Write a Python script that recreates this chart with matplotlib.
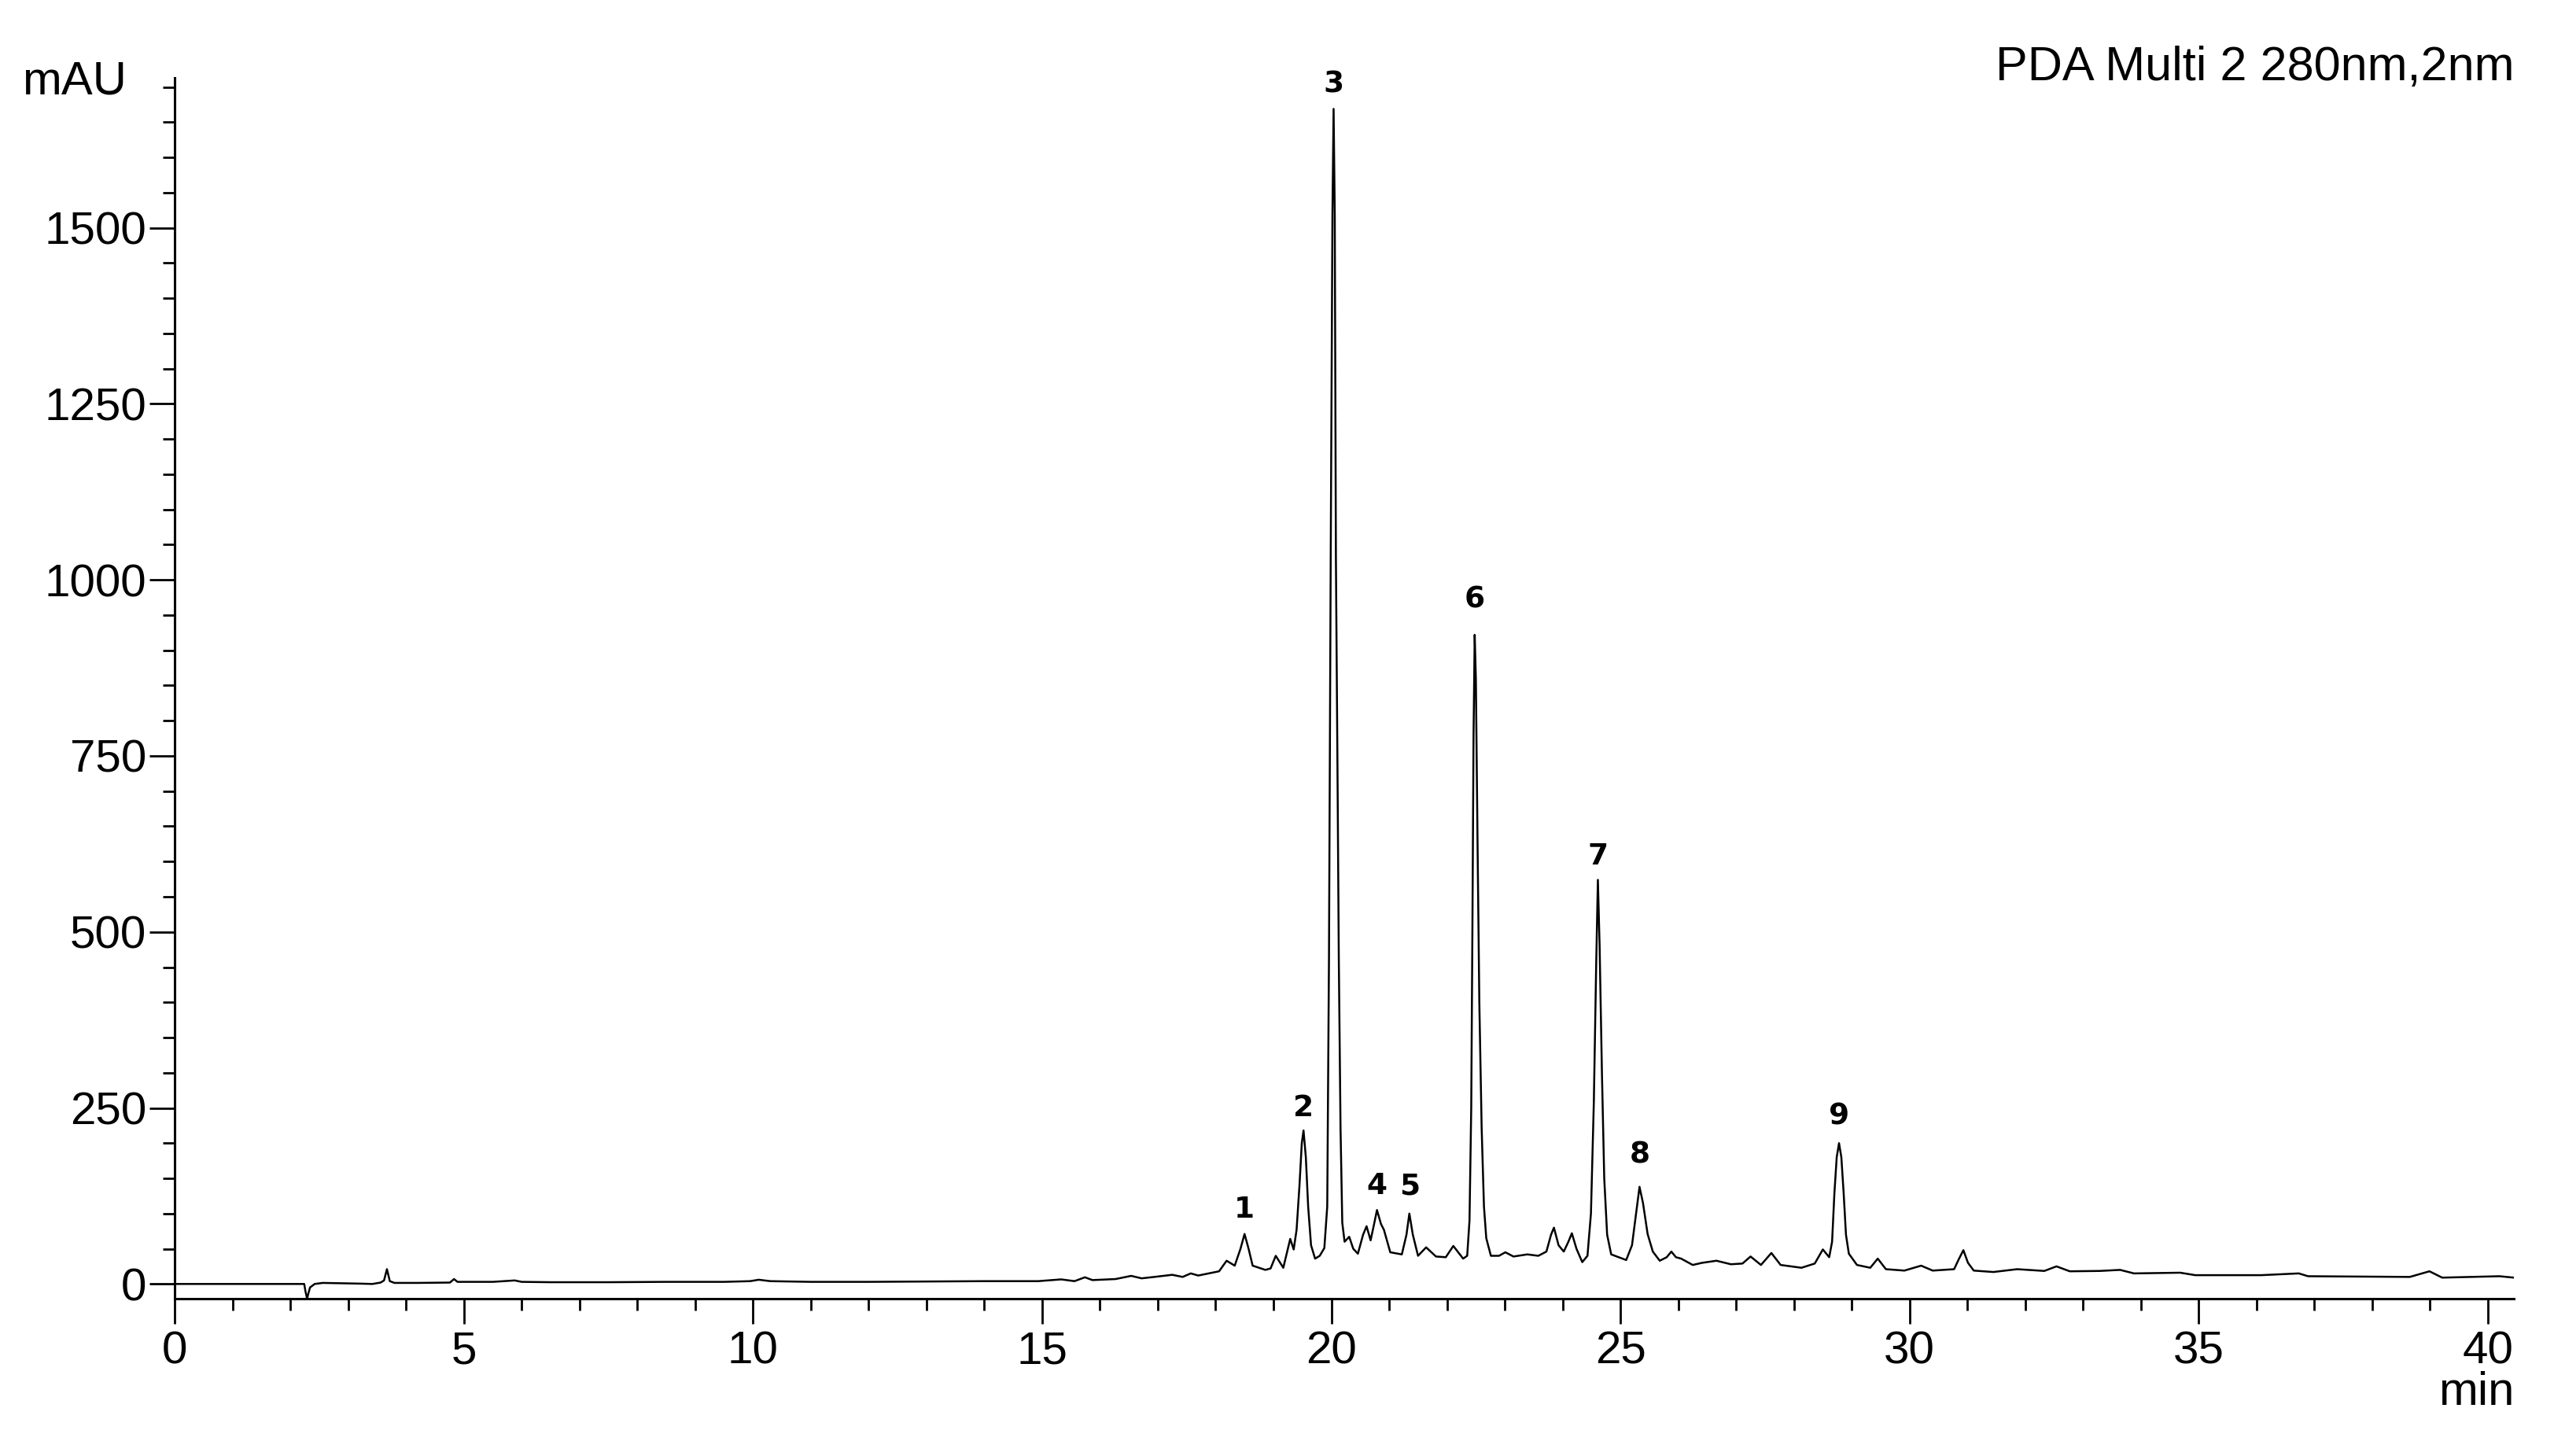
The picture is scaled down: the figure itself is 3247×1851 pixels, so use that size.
import numpy as np
import matplotlib
matplotlib.use('Agg')
import matplotlib.pyplot as plt
from matplotlib.ticker import MultipleLocator

# chromatogram trace (time in min, absorbance in mAU)
time_min = [0.0, 2.24, 2.26, 2.29, 2.31, 2.34, 2.42, 2.56, 2.9, 3.2, 3.42, 3.56, 3.62, 3.67, 3.72,
            3.8, 4.2, 4.76, 4.83, 4.89, 5.5, 5.88, 6.0, 6.5, 7.5, 8.5, 9.5, 9.95, 10.1, 10.3,
            11.0, 12.0, 13.0, 14.0, 14.93, 15.33, 15.56, 15.74, 15.87, 16.27, 16.54, 16.72, 16.94,
            17.25, 17.43, 17.57, 17.70, 18.06, 18.19, 18.33, 18.43, 18.50, 18.57, 18.64, 18.86,
            18.95, 19.04, 19.17, 19.29, 19.35, 19.40, 19.45, 19.49, 19.52, 19.56, 19.60, 19.65,
            19.72, 19.80, 19.88, 19.93, 19.96, 19.99, 20.02, 20.04, 20.06, 20.08, 20.11, 20.13,
            20.16, 20.19, 20.23, 20.31, 20.38, 20.46, 20.55, 20.61, 20.68, 20.74, 20.79, 20.86,
            20.91, 21.02, 21.22, 21.30, 21.35, 21.41, 21.50, 21.64, 21.81, 21.98, 22.11, 22.28,
            22.35, 22.39, 22.42, 22.44, 22.46, 22.48, 22.50, 22.53, 22.56, 22.60, 22.64, 22.68,
            22.76, 22.90, 23.01, 23.15, 23.39, 23.58, 23.72, 23.80, 23.85, 23.93, 24.02, 24.10,
            24.16, 24.24, 24.34, 24.43, 24.49, 24.54, 24.58, 24.61, 24.64, 24.68, 24.72, 24.77,
            24.84, 25.10, 25.20, 25.27, 25.33, 25.39, 25.47, 25.56, 25.68, 25.80, 25.88, 25.96,
            26.05, 26.25, 26.41, 26.66, 26.91, 27.11, 27.25, 27.43, 27.61, 27.77, 28.13, 28.36,
            28.50, 28.61, 28.66, 28.70, 28.74, 28.78, 28.82, 28.86, 28.90, 28.95, 29.09, 29.32,
            29.45, 29.59, 29.91, 30.20, 30.40, 30.77, 30.85, 30.93, 31.01, 31.11, 31.45, 31.86,
            32.33, 32.54, 32.77, 33.29, 33.64, 33.88, 34.68, 34.94, 36.08, 36.73, 36.89, 38.65,
            38.99, 39.21, 40.20, 40.45]
mau = [0.0, 0.0, -10, -21, -14, -5, 0, 1.5, 1.0, 0.5, 0.0, 2, 5, 21, 4,
       1.5, 1.5, 2, 7, 3, 3, 5, 3, 2.5, 2.5, 3, 3, 4, 6, 4,
       3, 3, 3.5, 4, 4, 6.5, 4, 9.5, 5.5, 7, 11.5, 8, 10,
       13, 10, 15, 12, 18, 33, 26, 50, 71, 50, 26, 20,
       22, 40, 23, 64, 49, 77, 140, 200, 218, 180, 110, 55,
       36, 40, 51, 110, 462, 1030, 1520, 1669, 1520, 1030, 700, 462,
       220, 87, 60, 67, 50, 43, 70, 82, 62, 85, 105, 85,
       77, 45, 42, 70, 100, 70, 40, 52, 39, 38, 54, 36,
       40, 90, 250, 500, 780, 922, 860, 620, 400, 222, 110, 65,
       40, 40, 45, 39, 42, 40, 46, 70, 80, 55, 46, 60,
       72, 50, 31, 40, 100, 258, 450, 574, 480, 300, 150, 70,
       42, 34, 55, 100, 138, 115, 71, 46, 33, 38, 46, 38,
       36, 27, 30, 33, 28, 29, 39, 27, 44, 27, 23, 29,
       49, 38, 60, 129, 180, 200, 180, 129, 70, 43, 27, 23,
       36, 21, 19, 26, 19, 21, 35, 48, 30, 19, 17, 21,
       18.5, 25, 18, 18.5, 20, 15, 16, 12.5, 12.5, 15, 11, 10,
       18, 9, 11, 9]

peak_ids = ['1', '2', '3', '4', '5', '6', '7', '8', '9']
peak_rt = [18.50, 19.52, 20.04, 20.79, 21.35, 22.48, 24.61, 25.33, 28.78]
# how far each number sits above its apex, in points
label_gap = [22, 20, 22, 22, 25, 32, 21, 29, 24]

fig = plt.figure(figsize=(32.47, 18.51), dpi=100)
ax = fig.add_axes([0.0684, 0.1080, 0.9159, 0.8385])

ax.plot(time_min, mau, color='black', linewidth=1.8)

for pid, rt, gap in zip(peak_ids, peak_rt, label_gap):
    top = np.interp(rt, time_min, mau)
    ax.annotate(pid, (rt, top), xytext=(0, gap), textcoords='offset points',
                ha='center', va='center', fontsize=27, fontweight='bold',
                family='DejaVu Sans')

ax.set_xlim(0, 40.45)
ax.set_ylim(-21, 1713)

for s in ['top', 'right']:
    ax.spines[s].set_visible(False)
for s in ['left', 'bottom']:
    ax.spines[s].set_linewidth(2.2)

ax.xaxis.set_major_locator(MultipleLocator(5))
ax.xaxis.set_minor_locator(MultipleLocator(1))
ax.yaxis.set_major_locator(MultipleLocator(250))
ax.yaxis.set_minor_locator(MultipleLocator(50))
ax.tick_params(which='major', length=23, width=2.0)
ax.tick_params(which='minor', length=11, width=2.0)
ax.tick_params(axis='y', which='both', pad=3)
ax.tick_params(axis='x', which='both', pad=6)
for lab in ax.get_xticklabels() + ax.get_yticklabels():
    lab.set_family('Liberation Sans')
    lab.set_fontsize(42)

fig.text(0.0496, 0.9438, 'mAU', ha='right', va='center', fontsize=43, family='Liberation Sans')
fig.text(0.9843, 0.953, 'PDA Multi 2 280nm,2nm', ha='right', va='center', fontsize=44,
         family='Liberation Sans')
fig.text(0.9843, 0.0435, 'min', ha='right', va='center', fontsize=43, family='Liberation Sans')

fig.savefig('out.png', dpi=100)
